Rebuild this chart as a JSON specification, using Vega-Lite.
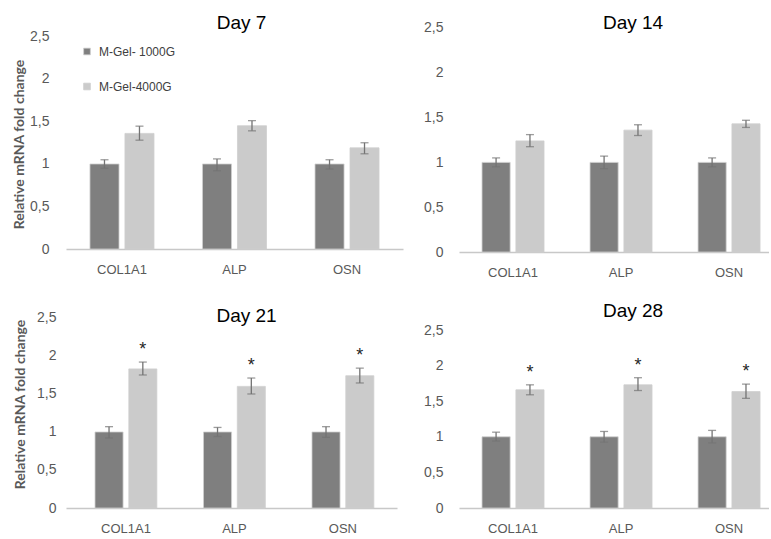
{
  "$schema": "https://vega.github.io/schema/vega-lite/v6.json",
  "background": "white",
  "padding": {"left": 12, "top": 13, "right": 0, "bottom": 0},
  "datasets": {
    "expr": [
      {"day": "Day 7", "gene": "COL1A1", "group": "M-Gel- 1000G", "value": 1.0, "lo": 0.95, "hi": 1.05, "sig": ""},
      {"day": "Day 7", "gene": "COL1A1", "group": "M-Gel-4000G", "value": 1.36, "lo": 1.28, "hi": 1.445, "sig": ""},
      {"day": "Day 7", "gene": "ALP", "group": "M-Gel- 1000G", "value": 1.0, "lo": 0.92, "hi": 1.06, "sig": ""},
      {"day": "Day 7", "gene": "ALP", "group": "M-Gel-4000G", "value": 1.45, "lo": 1.39, "hi": 1.51, "sig": ""},
      {"day": "Day 7", "gene": "OSN", "group": "M-Gel- 1000G", "value": 1.0, "lo": 0.94, "hi": 1.05, "sig": ""},
      {"day": "Day 7", "gene": "OSN", "group": "M-Gel-4000G", "value": 1.19, "lo": 1.12, "hi": 1.25, "sig": ""},
      {"day": "Day 14", "gene": "COL1A1", "group": "M-Gel- 1000G", "value": 1.0, "lo": 0.95, "hi": 1.05, "sig": ""},
      {"day": "Day 14", "gene": "COL1A1", "group": "M-Gel-4000G", "value": 1.24, "lo": 1.175, "hi": 1.31, "sig": ""},
      {"day": "Day 14", "gene": "ALP", "group": "M-Gel- 1000G", "value": 1.0, "lo": 0.93, "hi": 1.07, "sig": ""},
      {"day": "Day 14", "gene": "ALP", "group": "M-Gel-4000G", "value": 1.36, "lo": 1.3, "hi": 1.42, "sig": ""},
      {"day": "Day 14", "gene": "OSN", "group": "M-Gel- 1000G", "value": 1.0, "lo": 0.95, "hi": 1.05, "sig": ""},
      {"day": "Day 14", "gene": "OSN", "group": "M-Gel-4000G", "value": 1.43, "lo": 1.39, "hi": 1.47, "sig": ""},
      {"day": "Day 21", "gene": "COL1A1", "group": "M-Gel- 1000G", "value": 1.0, "lo": 0.92, "hi": 1.07, "sig": ""},
      {"day": "Day 21", "gene": "COL1A1", "group": "M-Gel-4000G", "value": 1.83, "lo": 1.75, "hi": 1.92, "sig": "*"},
      {"day": "Day 21", "gene": "ALP", "group": "M-Gel- 1000G", "value": 1.0, "lo": 0.94, "hi": 1.06, "sig": ""},
      {"day": "Day 21", "gene": "ALP", "group": "M-Gel-4000G", "value": 1.6, "lo": 1.5, "hi": 1.71, "sig": "*"},
      {"day": "Day 21", "gene": "OSN", "group": "M-Gel- 1000G", "value": 1.0, "lo": 0.93, "hi": 1.07, "sig": ""},
      {"day": "Day 21", "gene": "OSN", "group": "M-Gel-4000G", "value": 1.74, "lo": 1.645, "hi": 1.84, "sig": "*"},
      {"day": "Day 28", "gene": "COL1A1", "group": "M-Gel- 1000G", "value": 1.0, "lo": 0.94, "hi": 1.065, "sig": ""},
      {"day": "Day 28", "gene": "COL1A1", "group": "M-Gel-4000G", "value": 1.66, "lo": 1.59, "hi": 1.73, "sig": "*"},
      {"day": "Day 28", "gene": "ALP", "group": "M-Gel- 1000G", "value": 1.0, "lo": 0.925, "hi": 1.075, "sig": ""},
      {"day": "Day 28", "gene": "ALP", "group": "M-Gel-4000G", "value": 1.73, "lo": 1.65, "hi": 1.83, "sig": "*"},
      {"day": "Day 28", "gene": "OSN", "group": "M-Gel- 1000G", "value": 1.0, "lo": 0.915, "hi": 1.09, "sig": ""},
      {"day": "Day 28", "gene": "OSN", "group": "M-Gel-4000G", "value": 1.635, "lo": 1.54, "hi": 1.74, "sig": "*"}
    ]
  },
  "columns": 2,
  "align": "each",
  "spacing": {"row": 22, "column": 20},
  "resolve": {
    "scale": {"x": "independent", "y": "independent", "xOffset": "independent", "color": "independent"},
    "legend": {"color": "independent"}
  },
  "config": {
    "view": {"stroke": null},
    "title": {"font": "Liberation Sans", "fontSize": 19, "fontWeight": "normal", "color": "#000000", "baseline": "alphabetic", "anchor": "middle"},
    "axisX": {"title": null, "labelAngle": 0, "ticks": false, "tickSize": 0, "domainColor": "#c8c8c8", "domainWidth": 1.6, "labelColor": "#595959", "labelFont": "Liberation Sans", "labelFontSize": 13, "labelPadding": 14, "grid": false},
    "axisY": {"grid": false, "ticks": false, "tickSize": 0, "domain": false, "labelOverlap": false, "labelColor": "#595959", "labelFont": "Liberation Sans", "labelFontSize": 14, "titleFont": "Lato", "titleFontSize": 14, "titleFontWeight": "bold", "titleColor": "#595959"},
    "bar": {"stroke": "#cfcfcf", "strokeWidth": 0.8},
    "text": {"font": "Liberation Sans"}
  },
  "concat": [
    {
      "width": 337, "height": 229,
      "title": {"text": "Day 7", "offset": -12.5, "dx": 7},
      "data": {"name": "expr"},
      "transform": [{"filter": "datum.day === 'Day 7'"}],
      "encoding": {
        "x": {"field": "gene", "type": "nominal", "sort": ["COL1A1", "ALP", "OSN"], "scale": {"paddingInner": 0.431, "paddingOuter": 0.213}},
        "xOffset": {"field": "group", "type": "nominal", "sort": ["M-Gel- 1000G", "M-Gel-4000G"], "scale": {"paddingInner": 0.17}}
      },
      "layer": [
        {"mark": {"type": "bar"},
         "encoding": {
           "y": {"field": "value", "type": "quantitative", "title": "Relative mRNA fold change", "scale": {"domain": [0, 2.694]},
                 "axis": {"values": [0, 0.5, 1, 1.5, 2, 2.5], "labelOverlap": false, "format": ".1~f", "labelExpr": "replace(datum.label, '.', ',')", "labelPadding": 17, "titlePadding": 3, "titleY": 124}},
           "color": {"field": "group", "type": "nominal", "scale": {"domain": ["M-Gel- 1000G", "M-Gel-4000G"], "range": ["#7f7f7f", "#cbcbcb"]},
                     "legend": {"orient": "none", "legendX": 15, "legendY": 25.5, "title": null, "symbolType": "square", "symbolSize": 45, "symbolStrokeWidth": 0, "labelFont": "Liberation Sans", "labelFontSize": 12, "labelColor": "#404040", "rowPadding": 23, "labelOffset": 6}}
         }},
        {"mark": {"type": "rule", "color": "#737373", "strokeWidth": 1.3},
         "encoding": {"y": {"field": "lo", "type": "quantitative", "title": "Relative mRNA fold change", "scale": {"domain": [0, 2.694]},
                 "axis": {"values": [0, 0.5, 1, 1.5, 2, 2.5], "labelOverlap": false, "format": ".1~f", "labelExpr": "replace(datum.label, '.', ',')", "labelPadding": 17, "titlePadding": 3, "titleY": 124}}, "y2": {"field": "hi"}}},
        {"mark": {"type": "tick", "color": "#737373", "size": 8, "thickness": 1.3},
         "encoding": {"y": {"field": "hi", "type": "quantitative", "title": "Relative mRNA fold change", "scale": {"domain": [0, 2.694]},
                 "axis": {"values": [0, 0.5, 1, 1.5, 2, 2.5], "labelOverlap": false, "format": ".1~f", "labelExpr": "replace(datum.label, '.', ',')", "labelPadding": 17, "titlePadding": 3, "titleY": 124}}}},
        {"mark": {"type": "tick", "color": "#737373", "size": 8, "thickness": 1.3},
         "encoding": {"y": {"field": "lo", "type": "quantitative", "title": "Relative mRNA fold change", "scale": {"domain": [0, 2.694]},
                 "axis": {"values": [0, 0.5, 1, 1.5, 2, 2.5], "labelOverlap": false, "format": ".1~f", "labelExpr": "replace(datum.label, '.', ',')", "labelPadding": 17, "titlePadding": 3, "titleY": 124}}}}
      ]
    },
    {
      "width": 310, "height": 232,
      "title": {"text": "Day 14", "offset": -12.5, "dx": 19},
      "data": {"name": "expr"},
      "transform": [{"filter": "datum.day === 'Day 14'"}],
      "encoding": {
        "x": {"field": "gene", "type": "nominal", "sort": ["COL1A1", "ALP", "OSN"], "scale": {"paddingInner": 0.426, "paddingOuter": 0.148, "align": 0.72}},
        "xOffset": {"field": "group", "type": "nominal", "sort": ["M-Gel- 1000G", "M-Gel-4000G"], "scale": {"paddingInner": 0.17}}
      },
      "layer": [
        {"mark": {"type": "bar"},
         "encoding": {
           "y": {"field": "value", "type": "quantitative", "title": null, "scale": {"domain": [0, 2.589]},
                 "axis": {"values": [0, 0.5, 1, 1.5, 2, 2.5], "labelOverlap": false, "format": ".1~f", "labelExpr": "replace(datum.label, '.', ',')", "labelPadding": 16}},
           "color": {"field": "group", "type": "nominal", "scale": {"domain": ["M-Gel- 1000G", "M-Gel-4000G"], "range": ["#7f7f7f", "#cbcbcb"]}, "legend": null}
         }},
        {"mark": {"type": "rule", "color": "#737373", "strokeWidth": 1.3},
         "encoding": {"y": {"field": "lo", "type": "quantitative", "title": null, "scale": {"domain": [0, 2.589]},
                 "axis": {"values": [0, 0.5, 1, 1.5, 2, 2.5], "labelOverlap": false, "format": ".1~f", "labelExpr": "replace(datum.label, '.', ',')", "labelPadding": 16}}, "y2": {"field": "hi"}}},
        {"mark": {"type": "tick", "color": "#737373", "size": 8, "thickness": 1.3},
         "encoding": {"y": {"field": "hi", "type": "quantitative", "title": null, "scale": {"domain": [0, 2.589]},
                 "axis": {"values": [0, 0.5, 1, 1.5, 2, 2.5], "labelOverlap": false, "format": ".1~f", "labelExpr": "replace(datum.label, '.', ',')", "labelPadding": 16}}}},
        {"mark": {"type": "tick", "color": "#737373", "size": 8, "thickness": 1.3},
         "encoding": {"y": {"field": "lo", "type": "quantitative", "title": null, "scale": {"domain": [0, 2.589]},
                 "axis": {"values": [0, 0.5, 1, 1.5, 2, 2.5], "labelOverlap": false, "format": ".1~f", "labelExpr": "replace(datum.label, '.', ',')", "labelPadding": 16}}}}
      ]
    },
    {
      "width": 331, "height": 198,
      "title": {"text": "Day 21", "offset": -15.5, "dx": 15},
      "data": {"name": "expr"},
      "transform": [{"filter": "datum.day === 'Day 21'"}],
      "encoding": {
        "x": {"field": "gene", "type": "nominal", "sort": ["COL1A1", "ALP", "OSN"], "scale": {"paddingInner": 0.43, "paddingOuter": 0.2405, "align": 0.556}},
        "xOffset": {"field": "group", "type": "nominal", "sort": ["M-Gel- 1000G", "M-Gel-4000G"], "scale": {"paddingInner": 0.17}}
      },
      "layer": [
        {"mark": {"type": "bar"},
         "encoding": {
           "y": {"field": "value", "type": "quantitative", "title": "Relative mRNA fold change", "scale": {"domain": [0, 2.605]},
                 "axis": {"values": [0, 0.5, 1, 1.5, 2, 2.5], "labelOverlap": false, "format": ".1~f", "labelExpr": "replace(datum.label, '.', ',')", "labelPadding": 10, "titlePadding": 9, "titleY": 94}},
           "color": {"field": "group", "type": "nominal", "scale": {"domain": ["M-Gel- 1000G", "M-Gel-4000G"], "range": ["#7f7f7f", "#cbcbcb"]}, "legend": null}
         }},
        {"mark": {"type": "rule", "color": "#737373", "strokeWidth": 1.3},
         "encoding": {"y": {"field": "lo", "type": "quantitative", "title": "Relative mRNA fold change", "scale": {"domain": [0, 2.605]},
                 "axis": {"values": [0, 0.5, 1, 1.5, 2, 2.5], "labelOverlap": false, "format": ".1~f", "labelExpr": "replace(datum.label, '.', ',')", "labelPadding": 10, "titlePadding": 9, "titleY": 94}}, "y2": {"field": "hi"}}},
        {"mark": {"type": "tick", "color": "#737373", "size": 8, "thickness": 1.3},
         "encoding": {"y": {"field": "hi", "type": "quantitative", "title": "Relative mRNA fold change", "scale": {"domain": [0, 2.605]},
                 "axis": {"values": [0, 0.5, 1, 1.5, 2, 2.5], "labelOverlap": false, "format": ".1~f", "labelExpr": "replace(datum.label, '.', ',')", "labelPadding": 10, "titlePadding": 9, "titleY": 94}}}},
        {"mark": {"type": "tick", "color": "#737373", "size": 8, "thickness": 1.3},
         "encoding": {"y": {"field": "lo", "type": "quantitative", "title": "Relative mRNA fold change", "scale": {"domain": [0, 2.605]},
                 "axis": {"values": [0, 0.5, 1, 1.5, 2, 2.5], "labelOverlap": false, "format": ".1~f", "labelExpr": "replace(datum.label, '.', ',')", "labelPadding": 10, "titlePadding": 9, "titleY": 94}}}},
        {"mark": {"type": "text", "baseline": "alphabetic", "dy": -7, "fontSize": 18, "color": "#262626"},
         "encoding": {"y": {"field": "hi", "type": "quantitative", "title": "Relative mRNA fold change", "scale": {"domain": [0, 2.605]},
                 "axis": {"values": [0, 0.5, 1, 1.5, 2, 2.5], "labelOverlap": false, "format": ".1~f", "labelExpr": "replace(datum.label, '.', ',')", "labelPadding": 10, "titlePadding": 9, "titleY": 94}}, "text": {"field": "sig"}}}
      ]
    },
    {
      "width": 310, "height": 198,
      "title": {"text": "Day 28", "offset": -10.5, "dx": 19},
      "data": {"name": "expr"},
      "transform": [{"filter": "datum.day === 'Day 28'"}],
      "encoding": {
        "x": {"field": "gene", "type": "nominal", "sort": ["COL1A1", "ALP", "OSN"], "scale": {"paddingInner": 0.426, "paddingOuter": 0.148, "align": 0.72}},
        "xOffset": {"field": "group", "type": "nominal", "sort": ["M-Gel- 1000G", "M-Gel-4000G"], "scale": {"paddingInner": 0.17}}
      },
      "layer": [
        {"mark": {"type": "bar"},
         "encoding": {
           "y": {"field": "value", "type": "quantitative", "title": null, "scale": {"domain": [0, 2.781]},
                 "axis": {"values": [0, 0.5, 1, 1.5, 2, 2.5], "labelOverlap": false, "format": ".1~f", "labelExpr": "replace(datum.label, '.', ',')", "labelPadding": 16}},
           "color": {"field": "group", "type": "nominal", "scale": {"domain": ["M-Gel- 1000G", "M-Gel-4000G"], "range": ["#7f7f7f", "#cbcbcb"]}, "legend": null}
         }},
        {"mark": {"type": "rule", "color": "#737373", "strokeWidth": 1.3},
         "encoding": {"y": {"field": "lo", "type": "quantitative", "title": null, "scale": {"domain": [0, 2.781]},
                 "axis": {"values": [0, 0.5, 1, 1.5, 2, 2.5], "labelOverlap": false, "format": ".1~f", "labelExpr": "replace(datum.label, '.', ',')", "labelPadding": 16}}, "y2": {"field": "hi"}}},
        {"mark": {"type": "tick", "color": "#737373", "size": 8, "thickness": 1.3},
         "encoding": {"y": {"field": "hi", "type": "quantitative", "title": null, "scale": {"domain": [0, 2.781]},
                 "axis": {"values": [0, 0.5, 1, 1.5, 2, 2.5], "labelOverlap": false, "format": ".1~f", "labelExpr": "replace(datum.label, '.', ',')", "labelPadding": 16}}}},
        {"mark": {"type": "tick", "color": "#737373", "size": 8, "thickness": 1.3},
         "encoding": {"y": {"field": "lo", "type": "quantitative", "title": null, "scale": {"domain": [0, 2.781]},
                 "axis": {"values": [0, 0.5, 1, 1.5, 2, 2.5], "labelOverlap": false, "format": ".1~f", "labelExpr": "replace(datum.label, '.', ',')", "labelPadding": 16}}}},
        {"mark": {"type": "text", "baseline": "alphabetic", "dy": -7, "fontSize": 18, "color": "#262626"},
         "encoding": {"y": {"field": "hi", "type": "quantitative", "title": null, "scale": {"domain": [0, 2.781]},
                 "axis": {"values": [0, 0.5, 1, 1.5, 2, 2.5], "labelOverlap": false, "format": ".1~f", "labelExpr": "replace(datum.label, '.', ',')", "labelPadding": 16}}, "text": {"field": "sig"}}}
      ]
    }
  ]
}
